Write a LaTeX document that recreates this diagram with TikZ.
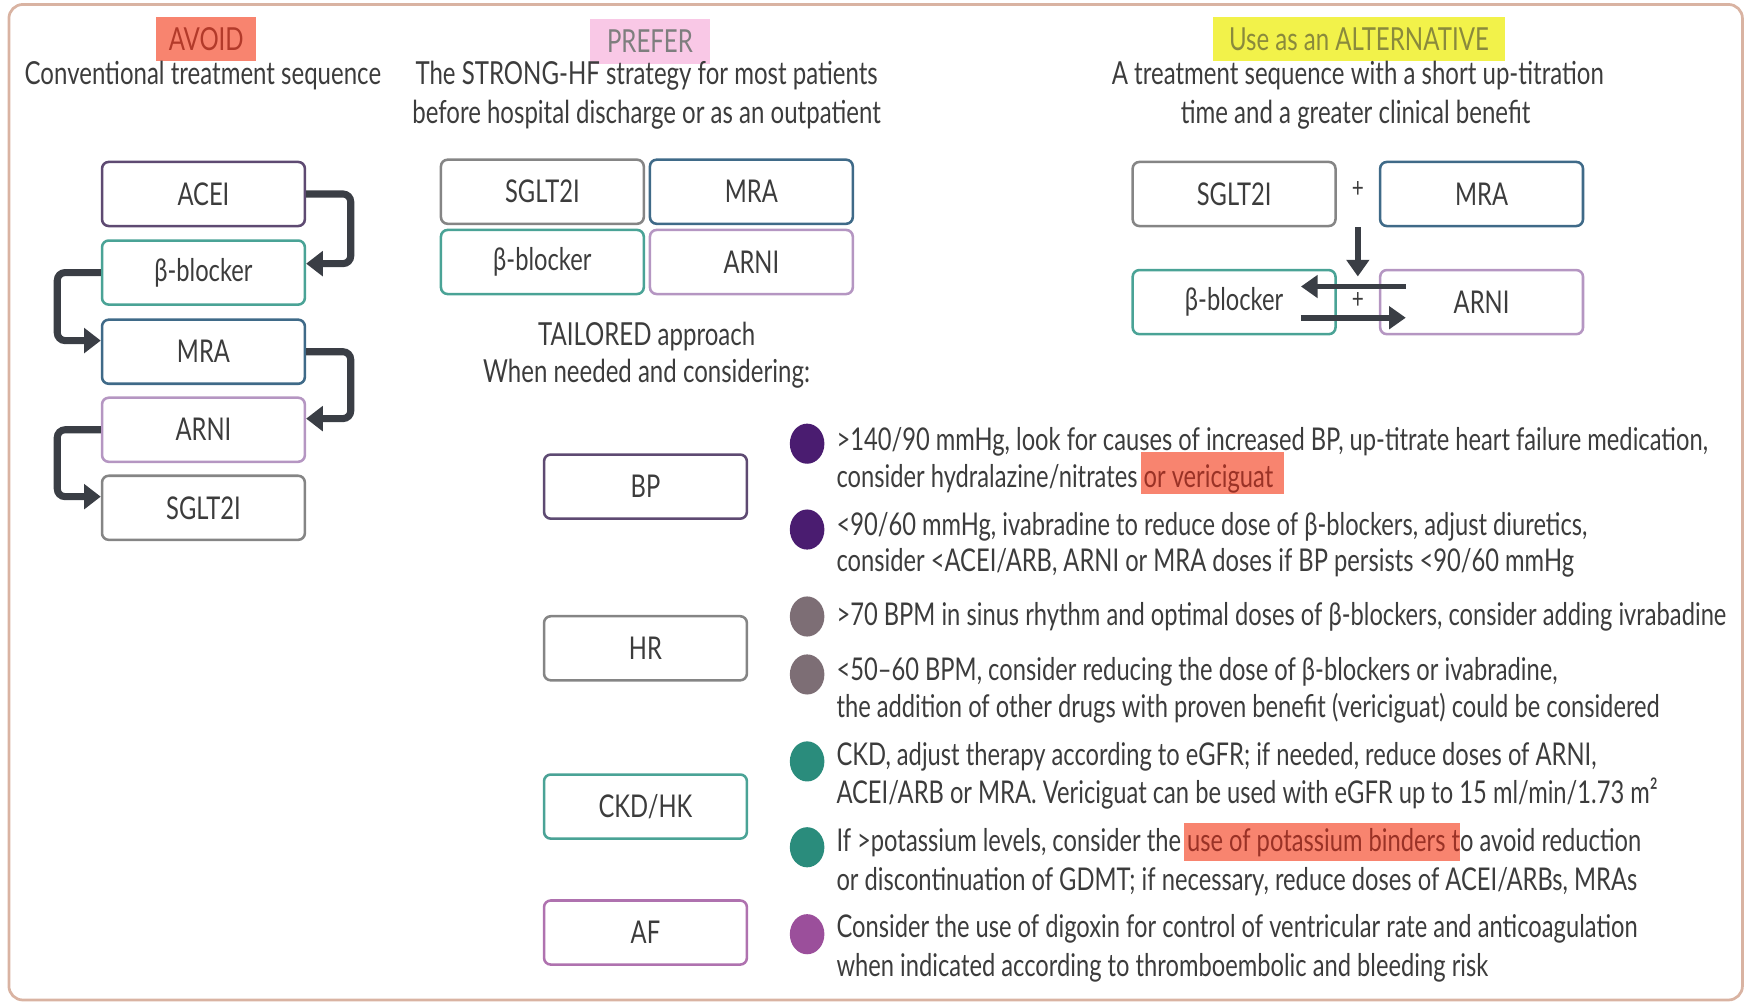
\documentclass[tikz,border=0pt]{standalone}
\usepackage{fontspec}
\setmainfont{Lato}[FakeStretch=0.757]
\usetikzlibrary{arrows.meta,calc,shapes.geometric}
\definecolor{textc}{HTML}{3C3C3C}
\definecolor{framec}{HTML}{D9B3A2}
\definecolor{arrowc}{HTML}{3A3E45}
\definecolor{cpurpdark}{HTML}{5E4A72}
\definecolor{cteal}{HTML}{4AA396}
\definecolor{cblue}{HTML}{3F6A88}
\definecolor{clilac}{HTML}{B596C2}
\definecolor{cgrey}{HTML}{858585}
\definecolor{bpurp}{HTML}{4A1C70}
\definecolor{bmauve}{HTML}{7D6E75}
\definecolor{bteal}{HTML}{2A8C7C}
\definecolor{bmag}{HTML}{9B4F9B}
\definecolor{hlred}{HTML}{F8846F}
\definecolor{hltext}{HTML}{9A3226}
\definecolor{avoidtext}{HTML}{B23A2A}
\definecolor{pinkhl}{HTML}{F9C8E6}
\definecolor{prefertext}{HTML}{7E7E7E}
\definecolor{yellowhl}{HTML}{F2F24A}
\definecolor{alttext}{HTML}{8A8A3C}
\newcommand\bodyfont{\fontsize{16pt}{19pt}\selectfont}
\newcommand\headfont{\fontsize{16.2pt}{19pt}\selectfont}
\newcommand\plusfont{\fontsize{14pt}{16pt}\selectfont}
\newcommand\hlmark[3]{\kern-0.05cm{\setlength{\fboxsep}{0pt}\colorbox{hlred}{\kern0.05cm\rule[-#1]{0pt}{#2}\textcolor{hltext}{#3}}}}
\begin{document}
\begin{tikzpicture}[x=0.02cm,y=-0.02cm,
  box/.style={draw, line width=1.3pt, rounded corners=0.12cm, minimum width=3.64cm, minimum height=1.15cm, inner sep=0pt, font=\bodyfont, text=textc, fill=white},
  txt/.style={font=\bodyfont, text=textc, inner sep=0pt, anchor=base west},
  head/.style={font=\headfont, text=textc, inner sep=0pt, anchor=base},
  tag/.style={inner sep=0pt, font=\headfont, minimum height=0.8cm},
  bullet/.style={ellipse, inner sep=0pt, minimum width=0.62cm, minimum height=0.72cm},
  arrL/.style={draw=arrowc, line width=3.6pt, rounded corners=0.14cm, -{Triangle[length=0.3cm,width=0.44cm]}},
  arrR/.style={draw=arrowc, line width=3pt, -{Triangle[length=0.3cm,width=0.4cm]}},
  plus/.style={font=\plusfont, text=textc, inner sep=0pt}
]
\useasboundingbox (0,0) rectangle (1568,900);
\draw[framec, line width=1.4pt, rounded corners=0.25cm] (8,4) rectangle (1563,897);

% ---------- left column ----------
\node[tag, fill=hlred, text=avoidtext, minimum width=1.8cm] (avoid) at (185,35) {AVOID};
\node[head] (convtitle) at (182,76) {Conventional treatment sequence};
\node[box, draw=cpurpdark] (acei) at (182.5,174) {ACEI};
\node[box, draw=cteal] (bb1) at (182.5,244.5) {β-blocker};
\node[box, draw=cblue] (mra1) at (182.5,315.5) {MRA};
\node[box, draw=clilac] (arni1) at (182.5,385.5) {ARNI};
\node[box, draw=cgrey] (sglt1) at (182.5,455.5) {SGLT2I};
\draw[arrL] (acei.east) -- ++(40,0) |- ([yshift=0.16cm]bb1.east);
\draw[arrL] (bb1.west) -- ++(-39,0) |- ([yshift=0.2cm]mra1.west);
\draw[arrL] (mra1.east) -- ++(40,0) |- ([yshift=0.2cm]arni1.east);
\draw[arrL] (arni1.west) -- ++(-39,0) |- ([yshift=0.2cm]sglt1.west);

% ---------- middle column ----------
\node[tag, fill=pinkhl, text=prefertext, minimum width=2.16cm] (prefer) at (583,37) {PREFER};
\node[head] (strong1) at (580,76) {The STRONG-HF strategy for most patients};
\node[head] (strong2) at (580,111) {before hospital discharge or as an outpatient};
\node[box, draw=cgrey] (sglt2) at (486.5,172) {SGLT2I};
\node[box, draw=cblue] (mra2) at (674,172) {MRA};
\node[box, draw=cteal] (bb2) at (486.5,235) {β-blocker};
\node[box, draw=clilac] (arni2) at (674,235) {ARNI};
\node[head] (tail1) at (580,310) {TAILORED approach};
\node[head] (tail2) at (580,343) {When needed and considering:};
\node[box, draw=cpurpdark] (bp) at (579,436.5) {BP};
\node[box, draw=cgrey] (hr) at (579,581.5) {HR};
\node[box, draw=cteal] (ckd) at (579,723.5) {CKD/HK};
\node[box, draw=bmag!80] (af) at (579,836.5) {AF};

% ---------- right column ----------
\node[tag, fill=yellowhl, text=alttext, minimum width=5.24cm] (alt) at (1219,35) {Use as an ALTERNATIVE};
\node[head] (alt1) at (1218,76) {A treatment sequence with a short up-titration};
\node[head] (alt2) at (1216,111) {time and a greater clinical benefit};
\node[box, draw=cgrey] (sglt3) at (1107,174) {SGLT2I};
\node[box, draw=cblue] (mra3) at (1329,174) {MRA};
\node[box, draw=cteal] (bb3) at (1107,271) {β-blocker};
\node[box, draw=clilac] (arni3) at (1329,271) {ARNI};
\node[plus] (plus1) at (1218,170) {+};
\node[plus] (plus2) at (1218,270) {+};
\coordinate (dtop) at (1218,204);
\coordinate (dbot) at (1218,248);
\coordinate (lA) at (1261,257);
\coordinate (lB) at (1167,257);
\coordinate (rA) at (1167,285);
\coordinate (rB) at (1261,285);
\draw[arrR] (dtop) -- (dbot);
\draw[arrR] (lA) -- (lB);
\draw[arrR] (rA) -- (rB);

% ---------- bullets ----------
\node[bullet, fill=bpurp] (d1) at (724,398) {};
\node[bullet, fill=bpurp] (d2) at (724,475) {};
\node[bullet, fill=bmauve] (d3) at (724,553) {};
\node[bullet, fill=bmauve] (d4) at (724,605) {};
\node[bullet, fill=bteal] (d5) at (724,683) {};
\node[bullet, fill=bteal] (d6) at (724,760) {};
\node[bullet, fill=bmag] (d7) at (724,838) {};

\node[txt] (t1) at (750,404) {>140/90 mmHg, look for causes of increased BP, up-titrate heart failure medication,};
\node[txt] (t2) at (750,437) {consider hydralazine/nitrates \hlmark{0.12cm}{0.76cm}{or vericiguat\kern0.2cm}};
\node[txt] (t3) at (750,480) {<90/60 mmHg, ivabradine to reduce dose of β-blockers, adjust diuretics,};
\node[txt] (t4) at (750,513) {consider <ACEI/ARB, ARNI or MRA doses if BP persists <90/60 mmHg};
\node[txt] (t5) at (750,561) {>70 BPM in sinus rhythm and optimal doses of β-blockers, consider adding ivrabadine};
\node[txt] (t6) at (750,610) {<50–60 BPM, consider reducing the dose of β-blockers or ivabradine,};
\node[txt] (t7) at (750,644) {the addition of other drugs with proven benefit (vericiguat) could be considered};
\node[txt] (t8) at (750,687) {CKD, adjust therapy according to eGFR; if needed, reduce doses of ARNI,};
\node[txt] (t9) at (750,721) {ACEI/ARB or MRA. Vericiguat can be used with eGFR up to 15 ml/min/1.73 m²};
\node[txt] (t10) at (750,764) {If >potassium levels, consider the \hlmark{0.16cm}{0.68cm}{use of potassium binders t}o avoid reduction};
\node[txt] (t11) at (750,799) {or discontinuation of GDMT; if necessary, reduce doses of ACEI/ARBs, MRAs};
\node[txt] (t12) at (750,841) {Consider the use of digoxin for control of ventricular rate and anticoagulation};
\node[txt] (t13) at (750,876) {when indicated according to thromboembolic and bleeding risk};
\end{tikzpicture}
\end{document}
